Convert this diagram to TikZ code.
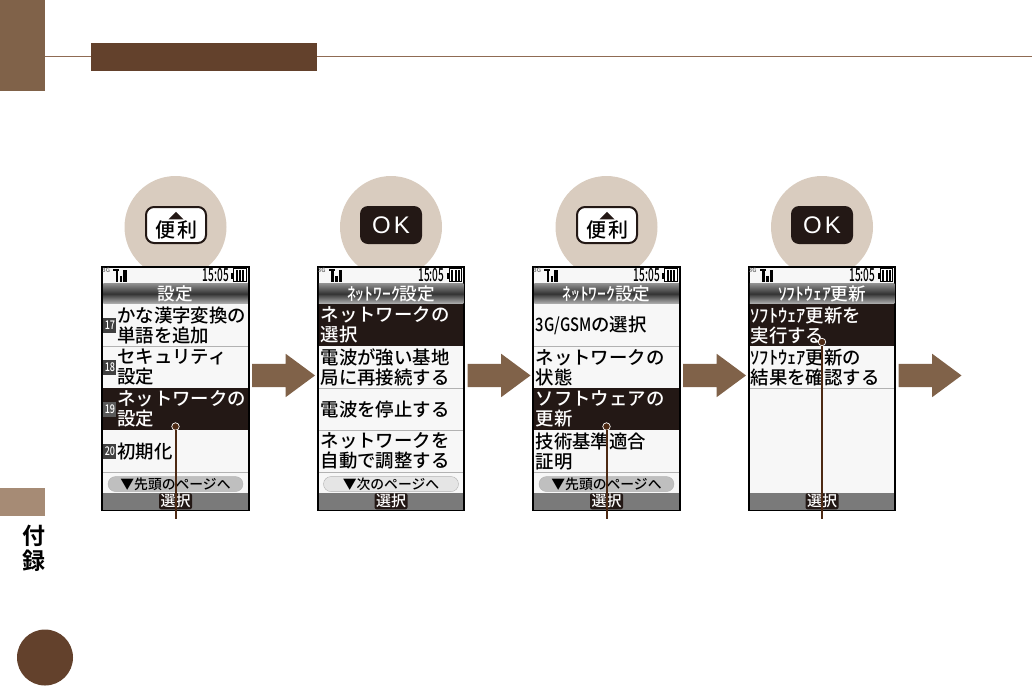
\documentclass[tikz,border=0pt]{standalone}
\usepackage{fontspec}
\setmainfont{Noto Sans CJK JP Medium}
\newfontfamily\okfont{Liberation Sans}
\newfontfamily\sidefont{Noto Sans CJK JP Bold}
\usetikzlibrary{shapes.geometric, shapes.arrows, positioning}

\definecolor{tabbrown}{HTML}{806249}
\definecolor{darkbrown}{HTML}{63412C}
\definecolor{rulebrown}{HTML}{8F6B53}
\definecolor{sidebrown}{HTML}{A68B75}
\definecolor{circletan}{HTML}{D9CCBF}
\definecolor{inkblack}{HTML}{231815}
\definecolor{leaderbrown}{HTML}{4D2A14}

% status line along the top of a screen
\newcommand{\phonestatus}[1]{
\begin{scope}[shift={(#1.north west)}]
\node [anchor=center, inner sep=0, font=\fontsize{6}{6}\selectfont, text=black!60] at (4,4) {3G};
\fill [black] (11,2.5) rectangle (17,4.5);
\fill [black] (13.5,2.5) rectangle (16,15.5);
\fill [black] (17.5,9.5) rectangle (20,15.5);
\fill [black] (21,3.5) rectangle (24.5,15.5);
\node [anchor=center, inner sep=0, font=\fontsize{18}{18}\selectfont] at (113.5,8.5) {\scalebox{.56}[1]{15:05}};
\fill [black] (129,6) rectangle (131,12);
\draw [black, line width=1.1pt, fill=white] (131.5,2) rectangle (144,15);
\fill [black] (133.5,3) rectangle (135.5,14);
\fill [black] (136.8,3) rectangle (138.8,14);
\fill [black] (140.1,3) rectangle (142.1,14);
\end{scope}
}
% title bar and soft key bar of a screen
\newcommand{\phonebars}[2]{
\phonestatus{#1}
\node (#1head) [headbar, below=17pt of #1.north] {#2};
\node (#1bar) [keybar, above=0pt of #1.south] {};
\node (#1key) [softkey] at (#1bar) {選択};
}
\newcommand{\rowitem}[4]{
\node (#2) [menurow, below=#1] {};
\node (#2t) [rowtext, right=#3 of #2.west] {#4};
\draw [sepline] (#2.south west) -- (#2.south east);
}
\newcommand{\rowsel}[4]{
\node (#2) [menusel, below=#1] {};
\node (#2t) [rowtext, text=white, right=#3 of #2.west] {#4};
}

\begin{document}
\begin{tikzpicture}[x=1pt, y=-1pt,
tabbox/.style={rectangle, inner sep=0, outer sep=0},
pushcircle/.style={circle, fill=circletan, minimum size=102pt, inner sep=0, outer sep=0},
softbtn/.style={rectangle, rounded corners=8pt, draw=inkblack, line width=2pt, fill=white, minimum width=60pt, minimum height=36pt, inner sep=0},
okbtn/.style={rectangle, rounded corners=8pt, fill=inkblack, text=white, minimum width=62pt, minimum height=38pt, inner sep=0, font=\okfont\fontsize{24}{24}\selectfont},
btntext/.style={inner sep=0, yshift=-4.5pt, font=\fontsize{20}{20}\selectfont},
btntri/.style={isosceles triangle, shape border rotate=90, isosceles triangle apex angle=90, fill=inkblack, minimum width=15pt, minimum height=7pt, inner sep=0},
screen/.style={rectangle, draw=black, line width=2pt, fill=white!97!black, minimum width=146.5pt, minimum height=243pt, inner sep=0, outer sep=0},
headbar/.style={rectangle, top color=black!45, bottom color=black!30, middle color=black!80, text=white, minimum width=144.5pt, minimum height=20pt, inner sep=0, outer sep=0, font=\fontsize{17.6}{18}\selectfont},
keybar/.style={rectangle, fill=black!52, minimum width=144.5pt, minimum height=17pt, inner sep=0, outer sep=0},
softkey/.style={rectangle, rounded corners=2pt, fill=inkblack, text=white, minimum width=33pt, minimum height=16pt, inner sep=0, font=\fontsize{15}{15}\selectfont},
menurow/.style={rectangle, minimum width=144.5pt, minimum height=42pt, inner sep=0, outer sep=0},
menusel/.style={menurow, fill=inkblack},
rowtext/.style={inner sep=0, outer sep=0, align=left, font=\fontsize{18.4}{20}\selectfont},
numtag/.style={rectangle, fill=black!75, text=white, minimum width=13pt, minimum height=15pt, inner sep=0, font=\fontsize{12}{12}\selectfont},
sepline/.style={black!30, line width=.8pt},
pillon/.style={rectangle, rounded corners=7.5pt, draw=black!30, fill=black!25, minimum width=135pt, minimum height=15pt, inner sep=0, font=\fontsize{13.8}{14}\selectfont},
pilloff/.style={pillon, fill=black!10},
nextarrow/.style={single arrow, fill=tabbrown, minimum height=63pt, minimum width=43pt, single arrow head extend=10pt, single arrow tip angle=73, inner xsep=0, inner ysep=11.5pt, outer sep=0, yshift=12.8pt},
pickdot/.style={circle, fill=leaderbrown, draw=white, line width=.7pt, minimum size=7.5pt, inner sep=0, outer sep=0},
leader/.style={leaderbrown, line width=2pt}]
\useasboundingbox (0,0) rectangle (1032,686);

% page furniture
\node (tab) [tabbox, fill=tabbrown, minimum width=45pt, minimum height=91pt] at (22.5,45.5) {};
\node (titlebox) [tabbox, fill=darkbrown, minimum width=226pt, minimum height=28pt] at (204,57) {};
\coordinate (ruleend) at (1032,56.5);
\draw [rulebrown, line width=1.2pt] (tab.east |- ruleend) -- (titlebox.west |- ruleend);
\draw [rulebrown, line width=1.2pt] (titlebox.east |- ruleend) -- (ruleend);
\node (sidetab) [tabbox, fill=sidebrown, minimum width=45pt, minimum height=28pt] at (22.5,502) {};
\node (sidetext) [inner sep=0, align=center, anchor=north, font=\sidefont\fontsize{23}{25}\selectfont] at (33.5,525) {付\\録};
\node (pagedot) [circle, fill=darkbrown, minimum size=56pt, inner sep=0] at (45,657.5) {};

% key circles
\node (c1) [pushcircle] at (175.5,227) {};
\node (c2) [pushcircle, right=113.5pt of c1] {};
\node (c3) [pushcircle, right=113.5pt of c2] {};
\node (c4) [pushcircle, right=113.5pt of c3] {};

\node (b1) [softbtn, yshift=2pt, xshift=.5pt] at (c1) {};
\node (b1t) [btntext] at (b1) {便\hspace{2pt}利};
\node (b1u) [btntri, above=.5pt of b1t] {};
\node (b2) [okbtn, yshift=2pt] at (c2) {O\hspace{3pt}K};
\node (b3) [softbtn, yshift=2pt, xshift=.5pt] at (c3) {};
\node (b3t) [btntext] at (b3) {便\hspace{2pt}利};
\node (b3u) [btntri, above=.5pt of b3t] {};
\node (b4) [okbtn, yshift=2pt] at (c4) {O\hspace{3pt}K};

% screens
\node (s1) [screen, below=-11.25pt of c1] {};
\node (s2) [screen, below=-11.25pt of c2] {};
\node (s3) [screen, below=-11.25pt of c3] {};
\node (s4) [screen, below=-11.25pt of c4] {};

% screen 1
\phonebars{s1}{設定}
\rowitem{.5pt of s1head}{s1a}{14pt}{かな漢字変換の\\単語を追加}
\rowitem{0pt of s1a}{s1b}{14pt}{セキュリティ\\設定}
\rowsel{0pt of s1b}{s1c}{14pt}{ネットワークの\\設定}
\rowitem{0pt of s1c}{s1d}{14pt}{初期化}
\node (s1an) [numtag, right=0pt of s1a.west] {\scalebox{.75}[1]{17}};
\node (s1bn) [numtag, right=0pt of s1b.west] {\scalebox{.75}[1]{18}};
\node (s1cn) [numtag, right=0pt of s1c.west, fill=black!65] {\scalebox{.75}[1]{19}};
\node (s1dn) [numtag, right=0pt of s1d.west] {\scalebox{.75}[1]{20}};
\node (s1pill) [pillon, above=1pt of s1bar] {▼先頭のページへ};

% screen 2
\phonebars{s2}{ﾈｯﾄﾜｰｸ設定}
\rowsel{.5pt of s2head}{s2a}{2pt}{ネットワークの\\選択}
\rowitem{0pt of s2a}{s2b}{2pt}{電波が強い基地\\局に再接続する}
\rowitem{0pt of s2b}{s2c}{2pt}{電波を停止する}
\rowitem{0pt of s2c}{s2d}{2pt}{ネットワークを\\自動で調整する}
\node (s2pill) [pilloff, above=1pt of s2bar] {▼次のページへ};

% screen 3
\phonebars{s3}{ﾈｯﾄﾜｰｸ設定}
\rowitem{.5pt of s3head}{s3a}{1.5pt}{\scalebox{.8}[1]{3G/GSM}の選択}
\rowitem{0pt of s3a}{s3b}{1.5pt}{ネットワークの\\状態}
\rowsel{0pt of s3b}{s3c}{1.5pt}{ソフトウェアの\\更新}
\rowitem{0pt of s3c}{s3d}{1.5pt}{技術基準適合\\証明}
\node (s3pill) [pillon, above=1pt of s3bar] {▼先頭のページへ};

% screen 4
\phonebars{s4}{ｿﾌﾄｳｪｱ更新}
\rowsel{.5pt of s4head}{s4a}{1pt}{ｿﾌﾄｳｪｱ更新を\\実行する}
\rowitem{0pt of s4a}{s4b}{1pt}{ｿﾌﾄｳｪｱ更新の\\結果を確認する}

% block arrows
\node (a1) [nextarrow, right=3.25pt of s1] {};
\node (a2) [nextarrow, right=3.25pt of s2] {};
\node (a3) [nextarrow, right=3.25pt of s3] {};
\node (a4) [nextarrow, right=3.25pt of s4] {};

% leaders
\node (d1) [pickdot, above=0pt of s1c.south] {};
\node (d3) [pickdot, above=0pt of s3c.south] {};
\node (d4) [pickdot, above=.5pt of s4a.south] {};
\coordinate [below=9pt of s1.south] (e1);
\coordinate [below=9pt of s3.south] (e3);
\coordinate [below=9pt of s4.south] (e4);
\draw [leader] (d1) -- (e1);
\draw [leader] (d3) -- (e3);
\draw [leader] (d4) -- (e4);

\end{tikzpicture}
\end{document}
